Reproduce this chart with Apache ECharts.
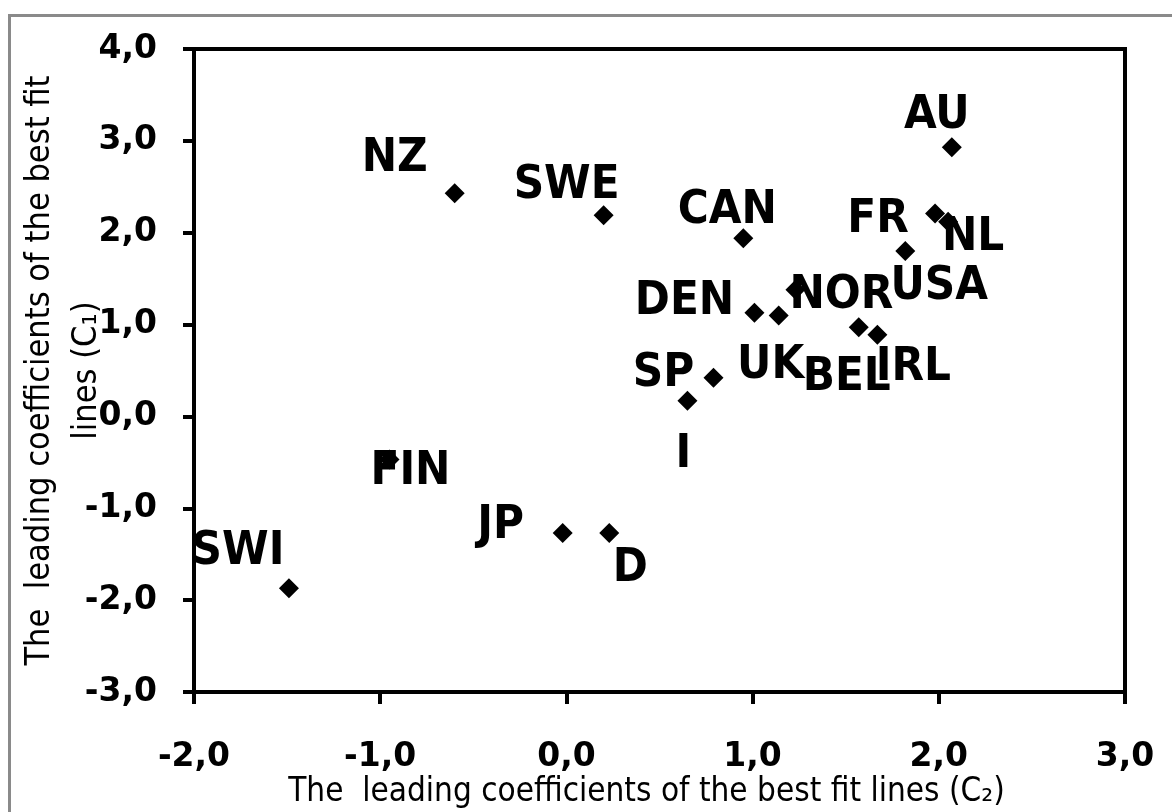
<!DOCTYPE html>
<html>
<head>
<meta charset="utf-8">
<script src="https://cdn.jsdelivr.net/npm/echarts@6/dist/echarts.min.js"></script>
<style>
html,body{margin:0;padding:0;background:#fff;overflow:hidden;}
#frame{position:absolute;left:8px;top:14px;width:1300px;height:900px;border:3px solid #8a8a8a;box-sizing:border-box;}
#chart{position:absolute;left:0;top:0;width:1172px;height:812px;}
</style>
</head>
<body>
<div id="frame"></div>
<div id="chart"></div>
<script>
// ---- data ----
const countries = ['AU','NZ','SWE','CAN','FR','NL','USA','DEN','UK','NOR','BEL','IRL','SP','I','FIN','JP','D','SWI'];
const c2Values  = [2.07,-0.60,0.20,0.95,1.98,2.05,1.82,1.01,1.14,1.23,1.57,1.67,0.79,0.65,-0.95,-0.02,0.23,-1.49];
const c1Values  = [2.93,2.43,2.19,1.94,2.21,2.12,1.80,1.13,1.10,1.38,0.97,0.89,0.42,0.17,-0.47,-1.27,-1.27,-1.87];
const xTicks = [-2,-1,0,1,2,3];
const yTicks = [-3,-2,-1,0,1,2,3,4];
const xTitle = 'The  leading coefficients of the best fit lines (C\u2082)';
const yTitle = 'The  leading coefficients of the best fit\nlines (C\u2081)';

// ---- label placement (style only, pixel offsets from marker centre) ----
const labelOffsets = {
  AU:[-15,-31], NZ:[-60,-34], SWE:[-37,-29], CAN:[-16,-27], FR:[-57,6], NL:[25,16],
  USA:[34,36], DEN:[-70,-11], UK:[-8,50], NOR:[46,6], BEL:[-12,50], IRL:[36,33],
  SP:[-50,-4], I:[-4,54], FIN:[21,12], JP:[-62,-7], D:[21,36], SWI:[-51,-36]
};
const SYMBOL = 20;

const fmt = v => v.toFixed(1).replace('.', ',');
const tickFont = {fontFamily:'DejaVu Sans', fontWeight:'bold', fontSize:33, color:'#000'};
const labelFamily = "'DejaVu Sans Condensed', 'Liberation Sans', sans-serif";

const data = countries.map((name, i) => ({
  name: name,
  value: [c2Values[i], c1Values[i]],
  label: {position: [SYMBOL/2 + labelOffsets[name][0], SYMBOL/2 + labelOffsets[name][1]]}
}));

const chart = echarts.init(document.getElementById('chart'), null, {renderer:'canvas'});
chart.setOption({
  backgroundColor: 'transparent',
  animation: false,
  grid: {left:194, top:49, right:47, bottom:120, show:true, borderColor:'#000', borderWidth:4,
         backgroundColor:'transparent', containLabel:false, outerBoundsMode:'none'},
  xAxis: {
    type:'value', min:xTicks[0], max:xTicks[xTicks.length-1], interval:1,
    axisLine:{show:true, onZero:false, lineStyle:{color:'#000', width:4}},
    axisTick:{show:true, length:12, lineStyle:{color:'#000', width:4}},
    splitLine:{show:false},
    axisLabel:{...tickFont, margin:49, formatter:fmt},
    name: xTitle, nameLocation:'middle', nameGap:84, nameMoveOverlap:false,
    nameTextStyle:{fontFamily:labelFamily, fontSize:33, color:'#000', padding:[0,26,0,0]}
  },
  yAxis: {
    type:'value', min:yTicks[0], max:yTicks[yTicks.length-1], interval:1,
    axisLine:{show:true, onZero:false, lineStyle:{color:'#000', width:4}},
    axisTick:{show:true, length:11, lineStyle:{color:'#000', width:4}},
    splitLine:{show:false},
    axisLabel:{...tickFont, margin:37, formatter:fmt},
    name: yTitle, nameLocation:'middle', nameGap:83, nameRotate:90, nameMoveOverlap:false,
    nameTextStyle:{fontFamily:labelFamily, fontSize:34, color:'#000', lineHeight:47, align:'center'}
  },
  series: [{
    type:'scatter',
    symbol:'diamond',
    symbolSize:SYMBOL,
    itemStyle:{color:'#000', opacity:1},
    data: data,
    label:{
      show:true, formatter:'{b}', align:'center', verticalAlign:'middle',
      fontFamily:labelFamily, fontWeight:'bold', fontSize:47, color:'#000', opacity:1
    },
    labelLayout:{hideOverlap:false},
    emphasis:{disabled:true}
  }]
});
</script>
</body>
</html>
